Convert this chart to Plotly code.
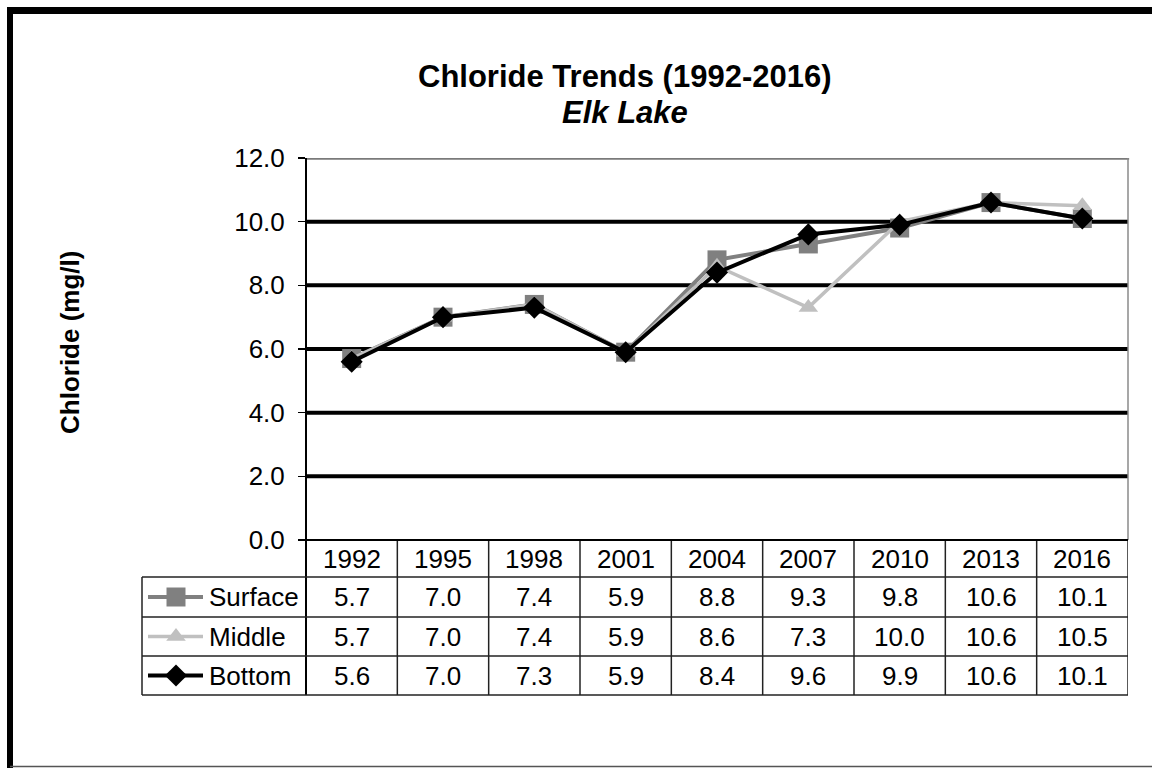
import plotly.graph_objects as go

# ---------------- data ----------------
years = ["1992", "1995", "1998", "2001", "2004", "2007", "2010", "2013", "2016"]
surface = [5.7, 7.0, 7.4, 5.9, 8.8, 9.3, 9.8, 10.6, 10.1]
middle = [5.7, 7.0, 7.4, 5.9, 8.6, 7.3, 10.0, 10.6, 10.5]
bottom = [5.6, 7.0, 7.3, 5.9, 8.4, 9.6, 9.9, 10.6, 10.1]
series_names = ["Surface", "Middle", "Bottom"]
y_ticks = [0, 2, 4, 6, 8, 10, 12]

# ---------------- layout geometry (screen pixels) ----------------
OFF = 0                     # page body margin removed via post_script
W, H = 1152 - OFF, 768 - OFF
PX0, PX1 = 306, 1128        # plot area x
PY0, PY1 = 158, 540         # plot area y (top, bottom)
ROWS = [540, 577, 617, 656, 695]   # table row boundaries
LEG_X = 142
FONT = "Liberation Sans, Arial, sans-serif"
FS = 26


def px(x):
    return (x - OFF) / W


def py(y):
    return 1 - (y - OFF) / H


colors = {"Surface": "#808080", "Middle": "#c0c0c0", "Bottom": "#000000"}
symbols = {"Surface": "square", "Middle": "triangle-up", "Bottom": "diamond"}
msize = {"Surface": 19, "Middle": 17, "Bottom": 17}
lwidth = {"Surface": 4, "Middle": 3.5, "Bottom": 4}
values = {"Surface": surface, "Middle": middle, "Bottom": bottom}

fig = go.Figure()

for name in series_names:
    fig.add_trace(go.Scatter(
        x=years, y=values[name], mode="lines+markers", name=name,
        line=dict(color=colors[name], width=lwidth[name]),
        marker=dict(symbol=symbols[name], size=msize[name], color=colors[name]),
        xaxis="x", yaxis="y", showlegend=False,
    ))

# legend keys inside the table (full-figure pixel axes)
for i, name in enumerate(series_names):
    yc = (ROWS[i + 1] + ROWS[i + 2]) / 2
    fig.add_trace(go.Scatter(
        x=[148, 203], y=[yc, yc], mode="lines",
        line=dict(color=colors[name], width=lwidth[name]),
        xaxis="x2", yaxis="y2", showlegend=False, cliponaxis=False, hoverinfo="skip",
    ))
    fig.add_trace(go.Scatter(
        x=[176], y=[yc], mode="markers",
        marker=dict(symbol=symbols[name], size=msize[name], color=colors[name]),
        xaxis="x2", yaxis="y2", showlegend=False, cliponaxis=False, hoverinfo="skip",
    ))

shapes = []
# gridlines
for v in y_ticks[1:-1]:
    shapes.append(dict(type="line", xref="paper", yref="y", x0=px(PX0), x1=px(PX1),
                       y0=v, y1=v, line=dict(color="black", width=4), layer="below"))
# plot area top / right border
shapes.append(dict(type="line", xref="paper", yref="y", x0=px(PX0), x1=px(PX1) + 0.001,
                   y0=12, y1=12, line=dict(color="#7a7a7a", width=3.5)))
shapes.append(dict(type="line", xref="paper", yref="paper", x0=px(PX1), x1=px(PX1),
                   y0=py(PY0), y1=py(PY1), line=dict(color="#8a8a8a", width=1.5)))
# table vertical lines (category boundaries)
for k in range(len(years) + 1):
    shapes.append(dict(type="line", xref="x", yref="paper", x0=k - 0.5, x1=k - 0.5,
                       y0=py(ROWS[0]), y1=py(ROWS[-1]), line=dict(color="#222222", width=1.5)))
# left axis line extending from top of plot down through table
shapes.append(dict(type="line", xref="paper", yref="paper", x0=px(PX0), x1=px(PX0),
                   y0=py(PY0), y1=py(ROWS[-1]), line=dict(color="black", width=2)))
# x axis line
shapes.append(dict(type="line", xref="paper", yref="paper", x0=px(PX0), x1=px(PX1),
                   y0=py(PY1), y1=py(PY1), line=dict(color="black", width=2)))
# table horizontal lines
for r in ROWS[1:]:
    shapes.append(dict(type="line", xref="paper", yref="paper", x0=px(LEG_X), x1=px(PX1),
                       y0=py(r), y1=py(r), line=dict(color="#222222", width=1.5)))
# legend column left edge
shapes.append(dict(type="line", xref="paper", yref="paper", x0=px(LEG_X), x1=px(LEG_X),
                   y0=py(ROWS[1]), y1=py(ROWS[-1]), line=dict(color="#222222", width=1.5)))
# outer frame
shapes.append(dict(type="line", xref="paper", yref="paper", x0=px(7), x1=px(1170),
                   y0=py(10.5), y1=py(10.5), line=dict(color="black", width=7)))
shapes.append(dict(type="line", xref="paper", yref="paper", x0=px(10), x1=px(10),
                   y0=py(7), y1=py(780), line=dict(color="black", width=6)))
shapes.append(dict(type="line", xref="paper", yref="paper", x0=px(10), x1=px(1170),
                   y0=py(766.5), y1=py(766.5), line=dict(color="#555555", width=1.5)))

annotations = []
# title
annotations.append(dict(text="<b>Chloride Trends (1992-2016)</b>", xref="paper", yref="paper",
                        x=px(625), y=py(76), xanchor="center", yanchor="middle", showarrow=False,
                        font=dict(family=FONT, size=31, color="black")))
annotations.append(dict(text="<b><i>Elk Lake</i></b>", xref="paper", yref="paper",
                        x=px(625), y=py(113), xanchor="center", yanchor="middle", showarrow=False,
                        font=dict(family=FONT, size=31, color="black")))
# y axis title
annotations.append(dict(text="<b>Chloride (mg/l)</b>", xref="paper", yref="paper",
                        x=px(70), y=py(343), xanchor="center", yanchor="middle", showarrow=False,
                        textangle=-90, font=dict(family=FONT, size=FS, color="black")))
# table header (years)
for j, yr in enumerate(years):
    annotations.append(dict(text=yr, xref="x", yref="paper", x=j,
                            y=py((ROWS[0] + ROWS[1]) / 2), xanchor="center", yanchor="middle",
                            showarrow=False, font=dict(family=FONT, size=FS, color="black")))
# table body
for i, name in enumerate(series_names):
    yc = (ROWS[i + 1] + ROWS[i + 2]) / 2
    annotations.append(dict(text=name, xref="paper", yref="paper", x=px(207), y=py(yc),
                            xanchor="left", yanchor="middle", showarrow=False,
                            font=dict(family=FONT, size=FS, color="black")))
    for j, v in enumerate(values[name]):
        annotations.append(dict(text=f"{v:.1f}", xref="x", yref="paper", x=j, y=py(yc),
                                xanchor="center", yanchor="middle", showarrow=False,
                                font=dict(family=FONT, size=FS, color="black")))

fig.update_layout(
    width=W, height=H, autosize=False,
    margin=dict(l=0, r=0, t=0, b=0, pad=0, autoexpand=False),
    paper_bgcolor="white", plot_bgcolor="rgba(0,0,0,0)",
    font=dict(family=FONT, color="black"),
    hovermode=False,
    xaxis=dict(domain=[px(PX0), px(PX1)], type="category", categoryarray=years,
               range=[-0.5, len(years) - 0.5], showticklabels=False, ticks="",
               showgrid=False, zeroline=False, showline=False, fixedrange=True,
               automargin=False),
    yaxis=dict(domain=[py(PY1), py(PY0)], range=[0, 12], tickvals=y_ticks,
               tickformat=".1f", ticks="outside", ticklen=7, tickwidth=1.5, tickcolor="black",
               ticklabelstandoff=8,
               tickfont=dict(family=FONT, size=FS, color="black"),
               showgrid=False, zeroline=False, showline=False, fixedrange=True,
               automargin=False),
    xaxis2=dict(domain=[0, 1], range=[OFF, OFF + W], anchor="y2", visible=False,
                fixedrange=True, automargin=False),
    yaxis2=dict(domain=[0, 1], range=[OFF + H, OFF], anchor="x2", visible=False,
                fixedrange=True, automargin=False),
    shapes=shapes,
    annotations=annotations,
)

fig.write_html(
    "out.html",
    config={"displayModeBar": False, "staticPlot": True},
    post_script="document.body.style.margin='0';"
                "document.documentElement.style.overflow='hidden';"
                "document.body.style.overflow='hidden';",
)
